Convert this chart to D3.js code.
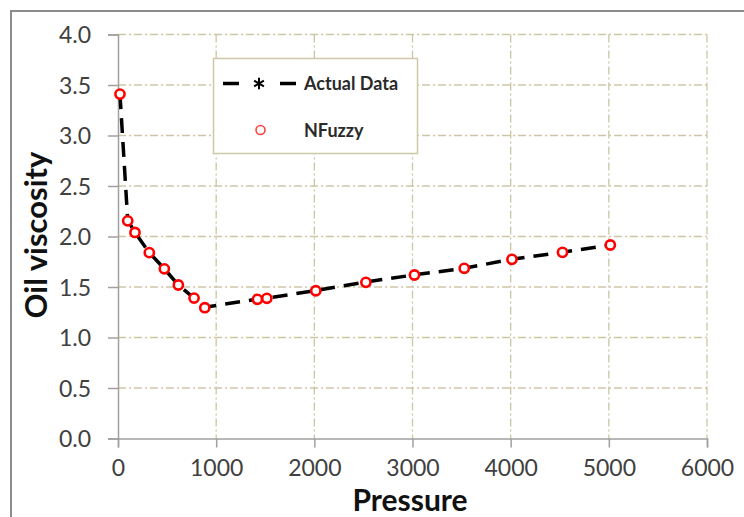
<!DOCTYPE html>
<html>
<head>
<meta charset="utf-8">
<script src="https://cdn.jsdelivr.net/npm/d3@7"></script>
<style>
  html, body { margin: 0; padding: 0; background: #fff; }
  svg { display: block; }
</style>
</head>
<body>
<svg id="chart" width="744" height="517"></svg>
<script>
// ---- data ----
const pressure = [20, 99, 173, 319, 472, 615, 775, 884, 1420, 1516, 2015, 2525, 3020, 3527, 4013, 4528, 5015];
const actualData = [3.41, 2.16, 2.04, 1.84, 1.68, 1.52, 1.39, 1.30, 1.38, 1.39, 1.465, 1.55, 1.62, 1.685, 1.775, 1.845, 1.915];
const nfuzzy = [3.41, 2.155, 2.04, 1.84, 1.68, 1.52, 1.39, 1.295, 1.378, 1.388, 1.463, 1.546, 1.619, 1.685, 1.774, 1.843, 1.916];
const xTicks = [0, 1000, 2000, 3000, 4000, 5000, 6000];
const yTicks = [0.0, 0.5, 1.0, 1.5, 2.0, 2.5, 3.0, 3.5, 4.0];
const seriesNames = ["Actual Data", "NFuzzy"];
const xTitle = "Pressure";
const yTitle = "Oil viscosity";

// ---- layout ----
const svg = d3.select("#chart");
const L = 118, R = 707, T = 34.5, B = 438.5;
const x = d3.scaleLinear().domain([0, 6000]).range([L, R]);
const y = d3.scaleLinear().domain([0, 4]).range([B, T]);
const gridColor = "#cdc6a5";
const axisColor = "#a0a0a0";

svg.append("rect").attr("width", 744).attr("height", 517).attr("fill", "#fff");
// outer frame
svg.append("rect").attr("x", 11).attr("y", 11).attr("width", 760).attr("height", 540)
  .attr("fill", "none").attr("stroke", "#8c8c8c").attr("stroke-width", 2);

// grid
const grid = svg.append("g");
grid.selectAll("line.h").data(yTicks.filter(d => d > 0)).join("line")
  .attr("x1", L).attr("x2", R).attr("y1", d => y(d)).attr("y2", d => y(d))
  .attr("stroke", gridColor).attr("stroke-width", 1.3).attr("stroke-dasharray", "8,3,2,3");
grid.selectAll("line.v").data(xTicks.filter(d => d > 0)).join("line")
  .attr("y1", T).attr("y2", B).attr("x1", d => x(d)).attr("x2", d => x(d))
  .attr("stroke", gridColor).attr("stroke-width", 1.3).attr("stroke-dasharray", "8,3,2,3");

// axes
const xAxis = d3.axisBottom(x).tickValues(xTicks).tickSize(9).tickPadding(12).tickFormat(d3.format("d"));
const yAxis = d3.axisLeft(y).tickValues(yTicks).tickSize(10).tickPadding(17).tickFormat(d3.format(".1f"));
const gx = svg.append("g").attr("transform", `translate(0,${B})`).call(xAxis);
const gy = svg.append("g").attr("transform", `translate(${L},0)`).call(yAxis);
[gx, gy].forEach(g => {
  g.select(".domain").attr("stroke", axisColor).attr("stroke-width", 1.5);
  g.selectAll(".tick line").attr("stroke", axisColor).attr("stroke-width", 1.5);
  g.selectAll(".tick text").attr("fill", "#404040").attr("font-family", "Lato, 'Open Sans', sans-serif").attr("font-size", 23);
});
gy.selectAll(".tick text").attr("dy", "0.36em");

// titles
svg.append("text").attr("x", 410).attr("y", 511).attr("text-anchor", "middle")
  .attr("font-family", "Lato, sans-serif").attr("font-weight", 700).attr("font-size", 30)
  .attr("fill", "#111").text(xTitle);
svg.append("text").attr("transform", "translate(47,235) rotate(-90)").attr("text-anchor", "middle")
  .attr("font-family", "Lato, sans-serif").attr("font-weight", 700).attr("font-size", 31)
  .attr("fill", "#111").text(yTitle);

// series: Actual Data (dashed line with asterisks)
const pts = pressure.map((p, i) => ({ p, a: actualData[i], n: nfuzzy[i] }));
const line = d3.line().x(d => x(d.p)).y(d => y(d.a));
svg.append("path").datum(pts).attr("d", line).attr("fill", "none")
  .attr("stroke", "#000").attr("stroke-width", 3.5).attr("stroke-dasharray", "15,9");
const star = d3.symbol().type(d3.symbolAsterisk || d3.symbolCross).size(90);
svg.append("g").selectAll("path").data(pts).join("path")
  .attr("transform", d => `translate(${x(d.p)},${y(d.a)})`)
  .attr("d", d3.symbol().type(d3.symbolAsterisk || d3.symbolCross).size(40))
  .attr("stroke", "#000").attr("stroke-width", 1.5).attr("fill", "none");

// series: NFuzzy (red hollow circles)
svg.append("g").selectAll("circle").data(pts).join("circle")
  .attr("cx", d => x(d.p)).attr("cy", d => y(d.n)).attr("r", 4.6)
  .attr("fill", "#fff").attr("stroke", "#ff0000").attr("stroke-width", 2.6);

// legend
const lg = svg.append("g");
lg.append("rect").attr("x", 213.5).attr("y", 58.5).attr("width", 204).attr("height", 95)
  .attr("fill", "#fff").attr("stroke", "#cfc8a6").attr("stroke-width", 1.5);
lg.append("line").attr("x1", 223).attr("x2", 297).attr("y1", 83.5).attr("y2", 83.5)
  .attr("stroke", "#000").attr("stroke-width", 3.5).attr("stroke-dasharray", "16,41");
lg.append("path").attr("transform", "translate(259,83.5)").attr("d", star)
  .attr("stroke", "#000").attr("stroke-width", 2).attr("fill", "none");
lg.append("circle").attr("cx", 260.5).attr("cy", 130).attr("r", 4.5)
  .attr("fill", "#fff").attr("stroke", "#ff4040").attr("stroke-width", 1.6);
lg.selectAll("text").data(seriesNames).join("text")
  .attr("x", 304).attr("y", (d, i) => i === 0 ? 90 : 136.5)
  .attr("font-family", "Lato, sans-serif").attr("font-weight", 700).attr("font-size", 18)
  .attr("fill", "#2a2a2a").text(d => d);
</script>
</body>
</html>
